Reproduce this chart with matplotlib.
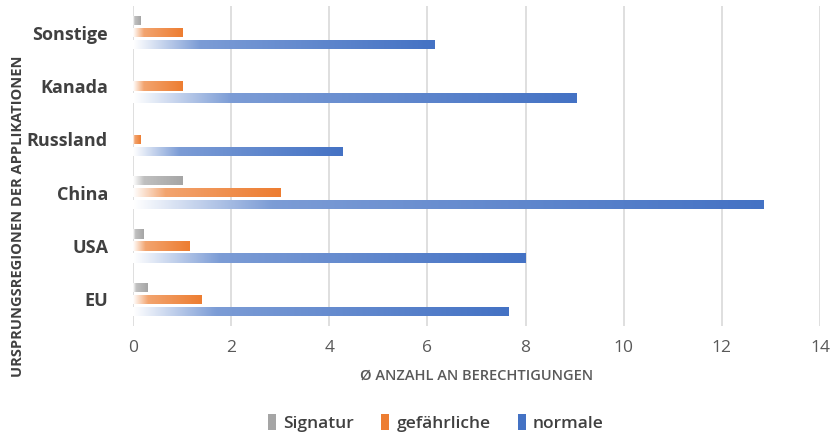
import matplotlib

matplotlib.use("Agg")
import matplotlib.pyplot as plt
import numpy as np
from matplotlib.colors import to_rgb
from matplotlib.patches import Patch

regions = ["EU", "USA", "China", "Russland", "Kanada", "Sonstige"]
signatur = [0.3, 0.22, 1.0, 0.0, 0.0, 0.15]
gefaehrliche = [1.4, 1.15, 3.0, 0.16, 1.0, 1.0]
normale = [7.65, 8.0, 12.85, 4.27, 9.04, 6.14]

series = [
    ("Signatur", signatur, "#A5A5A5", 0.225),
    ("gefährliche", gefaehrliche, "#ED7D31", 0.0),
    ("normale", normale, "#4472C4", -0.225),
]

plt.rcParams["font.family"] = ["Open Sans", "DejaVu Sans"]


def gradient(color, n=256):
    c = np.array(to_rgb(color))
    w = np.ones(3)
    t = np.linspace(0, 1, n)
    light = 0.7 * c + 0.3 * w
    out = np.ones((1, n, 4))
    for i, ti in enumerate(t):
        if ti < 0.22:
            f = ti / 0.22
            rgb = (1 - f) * w + f * light
        else:
            f = (ti - 0.22) / 0.78
            rgb = (1 - f) * light + f * c
        out[0, i, :3] = rgb
    return out


fig, ax = plt.subplots(figsize=(8.37, 4.36), dpi=100)
fig.subplots_adjust(left=133 / 837, right=820 / 837, top=1 - 6 / 436, bottom=1 - 326 / 436)

y = np.arange(len(regions))
for name, vals, color, off in series:
    bars = ax.barh(y + off, vals, height=0.17, color="none", edgecolor="none", zorder=3)
    img = gradient(color)
    for p in bars.patches:
        w = p.get_width()
        if w <= 0:
            continue
        x0, y0, h = p.get_x(), p.get_y(), p.get_height()
        im = ax.imshow(img, extent=[x0, x0 + w, y0, y0 + h], aspect="auto",
                       interpolation="bilinear", zorder=3)
        im.set_clip_path(p)

ax.set_xlim(0, 14)
ax.set_ylim(-0.5, 5.5)
ax.set_xticks(range(0, 15, 2))
ax.set_yticks(y)
ax.set_yticklabels(regions, fontsize=13, fontweight="bold", color="#404040")
ax.tick_params(axis="x", labelsize=12.5, colors="#595959", length=0, pad=10)
ax.tick_params(axis="y", length=0, pad=18)
ax.grid(True, axis="x", color="#D9D9D9", linewidth=1.2, zorder=0)
for s in ax.spines.values():
    s.set_visible(False)

ax.set_xlabel("Ø ANZAHL AN BERECHTIGUNGEN", fontsize=10.5, fontweight="semibold",
              color="#595959", labelpad=9)
fig.text(18 / 837, 1 - 216 / 436, "URSPRUNGSREGIONEN DER APPLIKATIONEN", rotation=90,
         fontsize=10.5, fontweight="bold", color="#404040", ha="center", va="center")

handles = [Patch(facecolor=c, edgecolor="none", label=n) for n, _, c, _ in series]
fig.legend(handles=handles, loc="center", bbox_to_anchor=(436 / 837, 1 - 423 / 436),
           ncol=3, frameon=False, handlelength=0.45, handleheight=1.0,
           handletextpad=0.4, columnspacing=1.6, prop={"weight": "semibold", "size": 12.5})
for t in fig.legends[0].get_texts():
    t.set_color("#404040")

fig.savefig("out.png", dpi=100)
